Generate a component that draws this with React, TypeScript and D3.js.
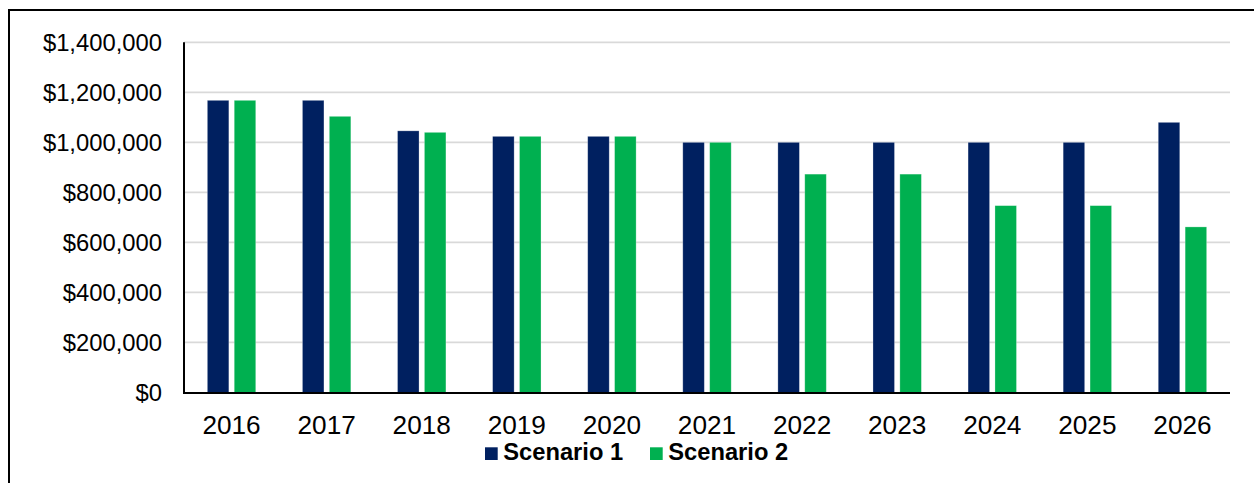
import React from "react";
import * as d3 from "d3";

const years = ["2016", "2017", "2018", "2019", "2020", "2021", "2022", "2023", "2024", "2025", "2026"];
const seriesNames = ["Scenario 1", "Scenario 2"];
const scenario1 = [1168000, 1168000, 1046000, 1024000, 1024000, 1000000, 1000000, 1000000, 1000000, 1000000, 1080000];
const scenario2 = [1168000, 1104000, 1040000, 1024000, 1024000, 1000000, 873000, 873000, 747000, 747000, 662000];
const yTicks = [0, 200000, 400000, 600000, 800000, 1000000, 1200000, 1400000];
const colors = ["#002060", "#00B050"];

const FONT = "'Liberation Sans', Arial, sans-serif";

export default function App() {
  const left = 184, right = 1230, top = 42.3, bottom = 392.5;
  const x = d3.scaleBand<string>().domain(years).range([left, right]).padding(0);
  const y = d3.scaleLinear().domain([0, 1400000]).range([bottom, top]);
  const bw = x.bandwidth();
  const xs = d3.scaleBand<string>().domain(seriesNames).range([-24.2, 24.2]).paddingInner(0.2).paddingOuter(0);
  const fmt = (v: number) => "$" + d3.format(",")(v);
  const data = [scenario1, scenario2];

  return (
    <svg width={1254} height={483} style={{ position: "absolute", left: 0, top: 0 }} fontFamily={FONT}>
      <rect x={0} y={0} width={1254} height={483} fill="#fff" />
      <rect x={9} y={10} width={1400} height={700} fill="none" stroke="#000" strokeWidth={2} />
      {yTicks.map((t) => (
        <g key={t}>
          {t > 0 && (
            <line x1={left} x2={right} y1={y(t)} y2={y(t)} stroke="#d9d9d9" strokeWidth={1.75} />
          )}
          <text x={162} y={y(t) + 8.5} textAnchor="end" fontSize={23.8} fill="#000">
            {fmt(t)}
          </text>
        </g>
      ))}
      {data.map((vals, si) =>
        years.map((yr, i) => {
          const cx = (x(yr) as number) + bw / 2;
          const bx = cx + (xs(seriesNames[si]) as number);
          return (
            <rect
              key={si + "-" + yr}
              x={bx}
              y={y(vals[i])}
              width={xs.bandwidth()}
              height={y(0) - y(vals[i])}
              fill={colors[si]}
              stroke="#ffffff"
              strokeOpacity={0.35}
              strokeWidth={0.75}
            />
          );
        })
      )}
      <line x1={left} x2={left} y1={top} y2={bottom + 1.5} stroke="#000" strokeWidth={2} />
      <line x1={left - 1} x2={right} y1={bottom + 0.5} y2={bottom + 0.5} stroke="#000" strokeWidth={2} />
      {years.map((yr) => (
        <text key={yr} x={(x(yr) as number) + bw / 2} y={434.3} textAnchor="middle" fontSize={26.2} fill="#000">
          {yr}
        </text>
      ))}
      {seriesNames.map((s, i) => {
        const lx = i === 0 ? 485 : 650;
        return (
          <g key={s}>
            <rect x={lx} y={447.3} width={12.7} height={12.7} fill={colors[i]} />
            <text x={lx + 18.3} y={460} fontSize={23.7} fontWeight="bold" fill="#000">
              {s}
            </text>
          </g>
        );
      })}
    </svg>
  );
}
